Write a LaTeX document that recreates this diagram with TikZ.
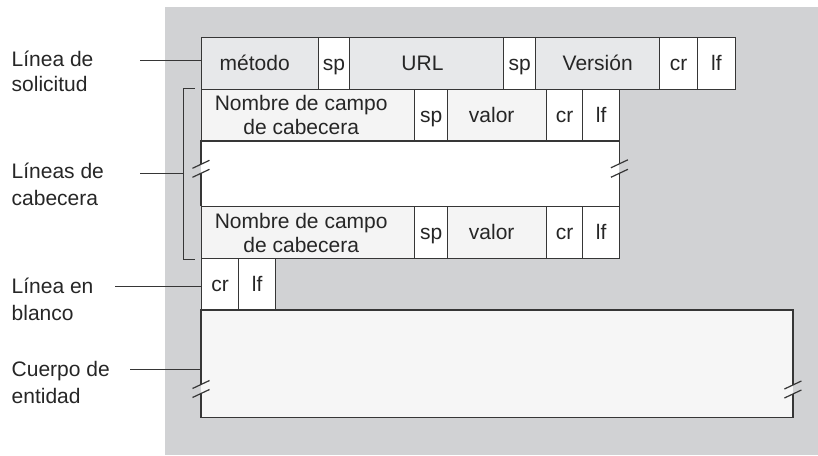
\documentclass[tikz,border=0pt]{standalone}
\usepackage{fontspec}
\setmainfont{Liberation Sans}
\usetikzlibrary{calc}
\definecolor{bggray}{HTML}{D1D2D4}
\definecolor{reqfill}{HTML}{E7E8EA}
\definecolor{hdrfill}{HTML}{F4F4F4}
\definecolor{bodyfill}{HTML}{F6F6F6}
\definecolor{edgecol}{HTML}{363636}
\tikzset{
  txt/.style={font=\fontsize{21}{24}\selectfont, text=black!85},
  cellbox/.style n args={3}{draw=edgecol, line width=1.4pt, fill=#3, inner sep=0pt,
    anchor=north west, minimum width=#1, minimum height=#2, txt},
  oneline/.style={text height=15pt, text depth=1pt},
  edgeline/.style={draw=edgecol, line width=1.4pt},
  leader/.style={draw=edgecol, line width=1pt},
  labeltext/.style={txt, anchor=base west, inner sep=0pt},
  breakmark/.pic={\draw[edgecol, line width=1.2pt] (-8.5,4) -- (8.5,-4);}
}
\begin{document}
\begin{tikzpicture}[x=1pt,y=-1pt]
\useasboundingbox (0,0) rectangle (818,455);
\fill[bggray] (165,7.3) rectangle (818,455);

% filled areas without border
\node[fill=white, inner sep=0pt, anchor=north west, minimum width=418pt, minimum height=65.7pt] (gap) at (201,140.3) {};
\node[fill=bodyfill, inner sep=0pt, anchor=north west, minimum width=591.5pt, minimum height=107.3pt] (body) at (201,310) {};

% request line
\node[cellbox={117pt}{51.5pt}{reqfill}, oneline] (metodo) at (201,37) {método\kern11pt};
\node[cellbox={30.5pt}{51.5pt}{white}, oneline] (sp1) at (318,37) {sp};
\node[cellbox={154.5pt}{51.5pt}{reqfill}, oneline] (url) at (348.5,37) {URL\kern8pt};
\node[cellbox={32pt}{51.5pt}{white}, oneline] (sp2) at (503,37) {sp};
\node[cellbox={124pt}{51.5pt}{reqfill}, oneline] (version) at (535,37) {Versión};
\node[cellbox={38pt}{51.5pt}{white}, oneline] (cr1) at (659,37) {cr};
\node[cellbox={37.5pt}{51.5pt}{white}, oneline] (lf1) at (697,37) {lf};

% header line 1
\node[cellbox={213pt}{51.8pt}{hdrfill}, align=center] (hn1) at (201,88.5) {Nombre de campo\kern14pt\\de cabecera\kern14pt};
\node[cellbox={33pt}{51.8pt}{white}, oneline] (hs1) at (414,88.5) {sp};
\node[cellbox={99pt}{51.8pt}{hdrfill}, oneline] (hv1) at (447,88.5) {valor\kern11pt};
\node[cellbox={36pt}{51.8pt}{white}, oneline] (hc1) at (546,88.5) {cr};
\node[cellbox={37pt}{51.8pt}{white}, oneline] (hl1) at (582,88.5) {lf};

% header line 2
\node[cellbox={213pt}{52pt}{hdrfill}, align=center] (hn2) at (201,206) {Nombre de campo\kern14pt\\de cabecera\kern14pt};
\node[cellbox={33pt}{52pt}{white}, oneline] (hs2) at (414,206) {sp};
\node[cellbox={99pt}{52pt}{hdrfill}, oneline] (hv2) at (447,206) {valor\kern11pt};
\node[cellbox={36pt}{52pt}{white}, oneline] (hc2) at (546,206) {cr};
\node[cellbox={37pt}{52pt}{white}, oneline] (hl2) at (582,206) {lf};

% blank line
\node[cellbox={37pt}{52pt}{white}, oneline] (bcr) at (201,258) {cr};
\node[cellbox={37pt}{52pt}{white}, oneline] (blf) at (238,258) {lf};

% broken edges of the header gap
\draw[edgeline] (gap.north west) -- ($(gap.north west)+(0,24)$);
\draw[edgeline] ($(gap.north west)+(0,33)$) -- (gap.south west);
\draw[edgeline] (gap.north east) -- ($(gap.north east)+(0,23.5)$);
\draw[edgeline] ($(gap.north east)+(0,33)$) -- (gap.south east);
\pic at ($(gap.north west)+(0,24)$) {breakmark};
\pic at ($(gap.north west)+(0,33)$) {breakmark};
\pic at ($(gap.north east)+(0,23.5)$) {breakmark};
\pic at ($(gap.north east)+(0,33)$) {breakmark};

% entity body edges
\draw[edgeline] ($(body.north west)+(0,74.5)$) -- (body.north west) -- (body.north east) -- ($(body.north east)+(0,75)$);
\draw[edgeline] ($(body.north west)+(0,83.5)$) -- (body.south west) -- (body.south east) -- ($(body.north east)+(0,84)$);
\pic at ($(body.north west)+(0,74.5)$) {breakmark};
\pic at ($(body.north west)+(0,83.5)$) {breakmark};
\pic at ($(body.north east)+(0,75)$) {breakmark};
\pic at ($(body.north east)+(0,84)$) {breakmark};

% labels
\node[labeltext] (sol1) at (11.5,66.7) {Línea de};
\node[labeltext] (sol2) at (11.5,91.7) {solicitud};
\node[labeltext] (cab1) at (11.5,178.3) {Líneas de};
\node[labeltext] (cab2) at (11.5,205) {cabecera};
\node[labeltext] (bla1) at (11.5,293.3) {Línea en};
\node[labeltext] (bla2) at (11.5,320) {blanco};
\node[labeltext] (cue1) at (11.5,376.7) {Cuerpo de};
\node[labeltext] (cue2) at (11.5,403.3) {entidad};

% leader lines and bracket
\coordinate (c1) at (140,60.5);
\draw[leader] (c1) -- (c1 -| metodo.west);
\coordinate (brx) at ($(hn1.north west)+(-18,0)$);
\draw[leader] ($(hn1.north west)+(-6.5,0)$) -- (brx) |- ($(hn2.south west)+(-6.5,0)$);
\coordinate (c2) at (140,173.3);
\draw[leader] (c2) -- (c2 -| brx);
\coordinate (c3) at (115,286.7);
\draw[leader] (c3) -- (c3 -| bcr.west);
\coordinate (c4) at (130,369.3);
\draw[leader] (c4) -- (c4 -| body.west);
\end{tikzpicture}
\end{document}
